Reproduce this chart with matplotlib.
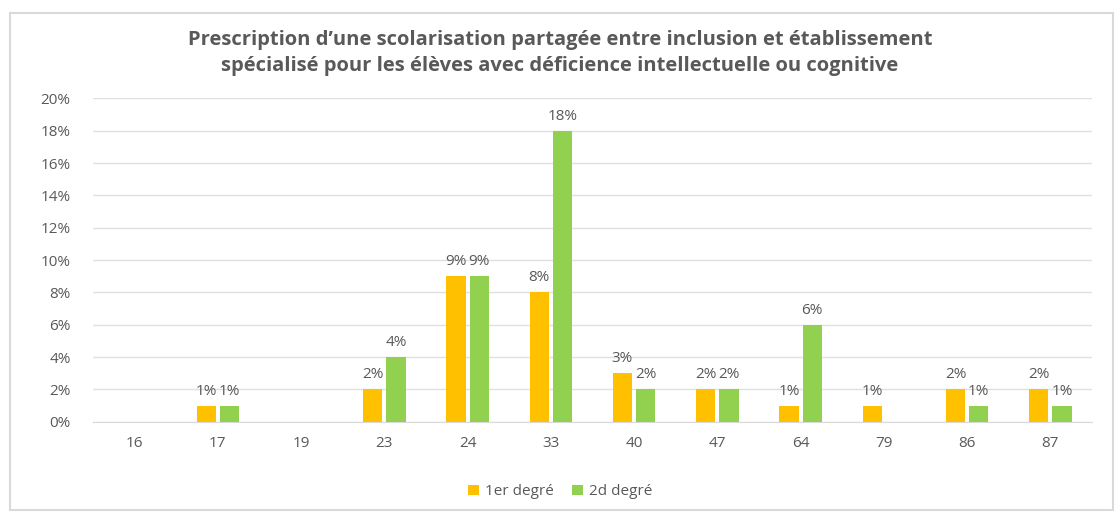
import numpy as np
import matplotlib.pyplot as plt
from matplotlib.patches import Rectangle

# Data
departements = ['16', '17', '19', '23', '24', '33', '40', '47', '64', '79', '86', '87']
premier_degre = [0, 1, 0, 2, 9, 8, 3, 2, 1, 1, 2, 2]
second_degre = [0, 1, 0, 4, 9, 18, 2, 2, 6, 0, 1, 1]
y_ticks = [0, 2, 4, 6, 8, 10, 12, 14, 16, 18, 20]

yellow = '#FFC000'
green = '#92D050'
text_gray = '#595959'

plt.rcParams['font.family'] = ['Open Sans', 'DejaVu Sans']

fig = plt.figure(figsize=(11.2, 5.13), dpi=100)
ax = fig.add_axes([0.083, 0.178, 0.892, 0.63])

x = np.arange(len(departements))
w = 0.23
b1 = ax.bar(x - w / 2 - 0.025, premier_degre, w, color=yellow, label='1er degré', zorder=3)
b2 = ax.bar(x + w / 2 + 0.025, second_degre, w, color=green, label='2d degré', zorder=3)

for bars, vals in ((b1, premier_degre), (b2, second_degre)):
    for bar, v in zip(bars, vals):
        if v > 0:
            ax.annotate(f'{v}%', (bar.get_x() + bar.get_width() / 2, v),
                        xytext=(0, 5), textcoords='offset points',
                        ha='center', va='bottom', fontsize=11, color=text_gray)

ax.set_xlim(-0.5, len(departements) - 0.5)
ax.set_ylim(0, 20)
ax.set_yticks(y_ticks)
ax.set_yticklabels([f'{t}%' for t in y_ticks])
ax.set_xticks(x)
ax.set_xticklabels(departements)
ax.tick_params(axis='both', length=0, colors=text_gray, labelsize=11)
ax.tick_params(axis='x', pad=10)
ax.tick_params(axis='y', pad=16)
ax.grid(axis='y', color='#E0E0E0', linewidth=1, zorder=0)
for s in ['top', 'right', 'left']:
    ax.spines[s].set_visible(False)
ax.spines['bottom'].set_color('#D9D9D9')

fig.text(0.5, 0.897, "Prescription d’une scolarisation partagée entre inclusion et établissement\n"
         "spécialisé pour les élèves avec déficience intellectuelle ou cognitive",
         ha='center', va='center', fontsize=14.5, fontweight='bold', color=text_gray,
         linespacing=1.4)

fig.legend(loc='lower center', bbox_to_anchor=(0.5, 0.0), ncol=2, frameon=False,
           fontsize=11, labelcolor=text_gray, handlelength=0.7, handleheight=0.7,
           columnspacing=1.2, handletextpad=0.4)

fig.patches.append(Rectangle((0.009, 0.005), 0.985, 0.97, transform=fig.transFigure,
                             fill=False, edgecolor='#D9D9D9', linewidth=1.5))

fig.savefig('out.png', dpi=100)
